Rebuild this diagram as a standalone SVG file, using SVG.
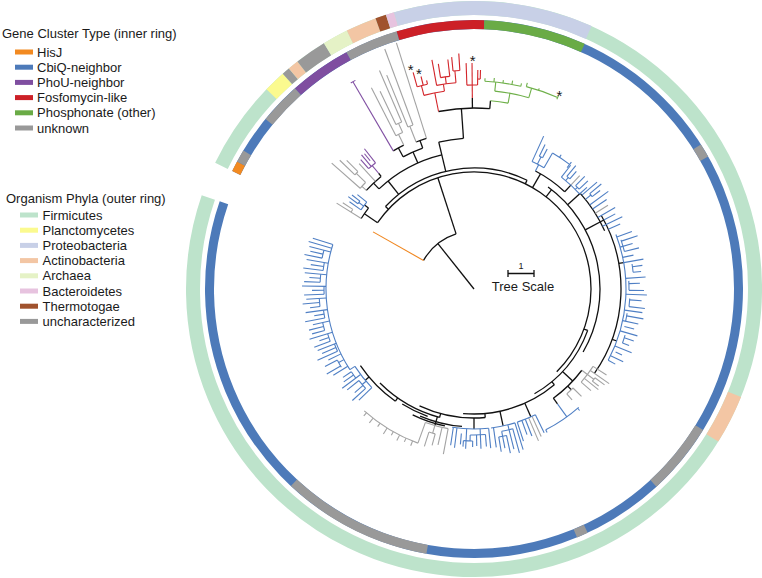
<svg xmlns="http://www.w3.org/2000/svg" width="762" height="578" viewBox="0 0 762 578">
<style>
text{font-family:"Liberation Sans",Arial,sans-serif;fill:#1a1a1a}
.lg{font-size:13px}
.ring circle{fill:none}
.t circle{fill:none}
.t line,.t circle{stroke-width:1.1}
.k line,.k circle{stroke:#111;stroke-width:1.3}
.b{stroke:#4f7fc4}
.g{stroke:#a3a3a3}
.r{stroke:#d3262b}
.p{stroke:#8150a3}
.n{stroke:#6fb04a}
.o{stroke:#f0861e}
.star{font-size:15px;text-anchor:middle}
</style>
<g id="legend-gene">
<text class="lg" x="2" y="38">Gene Cluster Type (inner ring)</text>
<rect x="15" y="49.5" width="18" height="5" fill="#f28a21"/><text class="lg" x="37" y="56.6">HisJ</text>
<rect x="15" y="64.7" width="18" height="5" fill="#4d7ab9"/><text class="lg" x="37" y="71.8">CbiQ-neighbor</text>
<rect x="15" y="79.9" width="18" height="5" fill="#7f4ea0"/><text class="lg" x="37" y="87">PhoU-neighbor</text>
<rect x="15" y="95.1" width="18" height="5" fill="#cc2027"/><text class="lg" x="37" y="102.2">Fosfomycin-like</text>
<rect x="15" y="110.3" width="18" height="5" fill="#6aab46"/><text class="lg" x="37" y="117.4">Phosphonate (other)</text>
<rect x="15" y="125.5" width="18" height="5" fill="#999999"/><text class="lg" x="37" y="132.6">unknown</text>
</g>
<g id="legend-phyla">
<text class="lg" x="6" y="202.5">Organism Phyla (outer ring)</text>
<rect x="20" y="212.5" width="18" height="5" fill="#bde3cb"/><text class="lg" x="42.5" y="219.6">Firmicutes</text>
<rect x="20" y="227.7" width="18" height="5" fill="#fbfa8f"/><text class="lg" x="42.5" y="234.8">Planctomycetes</text>
<rect x="20" y="242.9" width="18" height="5" fill="#c8d0e7"/><text class="lg" x="42.5" y="250">Proteobacteria</text>
<rect x="20" y="258.1" width="18" height="5" fill="#f3c6a4"/><text class="lg" x="42.5" y="265.2">Actinobacteria</text>
<rect x="20" y="273.3" width="18" height="5" fill="#e5f2c6"/><text class="lg" x="42.5" y="280.4">Archaea</text>
<rect x="20" y="288.5" width="18" height="5" fill="#e7c3df"/><text class="lg" x="42.5" y="295.6">Bacteroidetes</text>
<rect x="20" y="303.7" width="18" height="5" fill="#a0522d"/><text class="lg" x="42.5" y="310.8">Thermotogae</text>
<rect x="20" y="318.9" width="18" height="5" fill="#999999"/><text class="lg" x="42.5" y="326">uncharacterized</text>
</g>
<g id="outer-ring" class="ring" transform="translate(474,289)" stroke-width="14">
<circle r="281" pathLength="360" stroke="#bde3cb" stroke-dasharray="353 360" transform="rotate(206)"/>
<circle r="281" pathLength="360" stroke="#fbfa8f" stroke-dasharray="4.5 360" transform="rotate(223.9)"/>
<circle r="281" pathLength="360" stroke="#999999" stroke-dasharray="1.6 360" transform="rotate(228.4)"/>
<circle r="281" pathLength="360" stroke="#f3c6a4" stroke-dasharray="2.2 360" transform="rotate(230)"/>
<circle r="281" pathLength="360" stroke="#999999" stroke-dasharray="6.4 360" transform="rotate(232.2)"/>
<circle r="281" pathLength="360" stroke="#e5f2c6" stroke-dasharray="5.2 360" transform="rotate(238.6)"/>
<circle r="281" pathLength="360" stroke="#f3c6a4" stroke-dasharray="6.2 360" transform="rotate(243.8)"/>
<circle r="281" pathLength="360" stroke="#a0522d" stroke-dasharray="2.2 360" transform="rotate(250)"/>
<circle r="281" pathLength="360" stroke="#e7c3df" stroke-dasharray="1.7 360" transform="rotate(252.2)"/>
<circle r="281" pathLength="360" stroke="#c8d0e7" stroke-dasharray="40.2 360" transform="rotate(253.9)"/>
<circle r="281" pathLength="360" stroke="#f3c6a4" stroke-dasharray="10 360" transform="rotate(22)"/>
</g>
<g id="inner-ring" class="ring" transform="translate(474,289)" stroke-width="9">
<circle r="264.5" pathLength="360" stroke="#4d7ab9" stroke-dasharray="353 360" transform="rotate(206)"/>
<circle r="264.5" pathLength="360" stroke="#f28a21" stroke-dasharray="2.3 360" transform="rotate(206)"/>
<circle r="264.5" pathLength="360" stroke="#999999" stroke-dasharray="2.7 360" transform="rotate(208.3)"/>
<circle r="264.5" pathLength="360" stroke="#999999" stroke-dasharray="9.1 360" transform="rotate(219.2)"/>
<circle r="264.5" pathLength="360" stroke="#7f4ea0" stroke-dasharray="13.4 360" transform="rotate(228.3)"/>
<circle r="264.5" pathLength="360" stroke="#999999" stroke-dasharray="11.6 360" transform="rotate(241.7)"/>
<circle r="264.5" pathLength="360" stroke="#cc2027" stroke-dasharray="18.9 360" transform="rotate(253.3)"/>
<circle r="264.5" pathLength="360" stroke="#6aab46" stroke-dasharray="22.1 360" transform="rotate(272.2)"/>
<circle r="264.5" pathLength="360" stroke="#999999" stroke-dasharray="3 360" transform="rotate(327.5)"/>
<circle r="264.5" pathLength="360" stroke="#999999" stroke-dasharray="15.7 360" transform="rotate(31.6)"/>
<circle r="264.5" pathLength="360" stroke="#999999" stroke-dasharray="2.5 360" transform="rotate(65)"/>
<circle r="264.5" pathLength="360" stroke="#999999" stroke-dasharray="32.7 360" transform="rotate(100.2)"/>
</g>
<g id="connectors" class="t" transform="translate(474,289)">
<g class="k">
<line x1="0" x2="58" transform="rotate(231.5)"/>
<line x1="58" x2="117" transform="rotate(252)"/>
<line x1="117" x2="121" transform="rotate(223)"/>
<line x1="117" x2="121" transform="rotate(296)"/>
<line x1="117" x2="133" transform="rotate(214.5)"/>
<line x1="133" x2="138" transform="rotate(217.5)"/>
<line x1="121" x2="138" transform="rotate(231.5)"/>
<line x1="138" x2="146" transform="rotate(226.5)"/>
<line x1="146" x2="150" transform="rotate(230.5)"/>
<line x1="138" x2="150" transform="rotate(246)"/>
<line x1="150" x2="160" transform="rotate(241.8)"/>
<line x1="150" x2="158" transform="rotate(250)"/>
<line x1="121" x2="151" transform="rotate(256.5)"/>
<line x1="151" x2="181" transform="rotate(266)"/>
<line x1="181" x2="191" transform="rotate(269.5)"/>
<line x1="181" x2="189" transform="rotate(275)"/>
<line x1="117" x2="133" transform="rotate(300)"/>
<line x1="133" x2="142" transform="rotate(313)"/>
<line x1="117" x2="126" transform="rotate(308)"/>
<line x1="126" x2="143" transform="rotate(318)"/>
<line x1="126" x2="147" transform="rotate(332)"/>
<line x1="147" x2="152" transform="rotate(350)"/>
<line x1="147" x2="152" transform="rotate(380)"/>
<line x1="117" x2="121" transform="rotate(20)"/>
<line x1="121" x2="135" transform="rotate(43)"/>
<line x1="135" x2="142" transform="rotate(54)"/>
<line x1="135" x2="140" transform="rotate(46)"/>
<line x1="121" x2="125" transform="rotate(50)"/>
<line x1="125" x2="140" transform="rotate(66)"/>
<line x1="125" x2="140" transform="rotate(78)"/>
<line x1="125" x2="129" transform="rotate(85)"/>
<line x1="129" x2="140" transform="rotate(90)"/>
<line x1="129" x2="133" transform="rotate(105)"/>
<line x1="133" x2="142" transform="rotate(106)"/>
<line x1="133" x2="137" transform="rotate(125)"/>
<line x1="137" x2="142" transform="rotate(140)"/>
<circle r="58" pathLength="360" stroke-dasharray="42.5 360" transform="rotate(209.5)"/>
<circle r="117" pathLength="360" stroke-dasharray="190.5 360" transform="rotate(214.5)"/>
<circle r="121" pathLength="360" stroke-dasharray="73 360" transform="rotate(223)"/>
<circle r="121" pathLength="360" stroke-dasharray="40 360" transform="rotate(20)"/>
<circle r="125" pathLength="360" stroke-dasharray="45 360" transform="rotate(50)"/>
<circle r="129" pathLength="360" stroke-dasharray="30 360" transform="rotate(85)"/>
<circle r="133" pathLength="360" stroke-dasharray="30 360" transform="rotate(105)"/>
<circle r="137" pathLength="360" stroke-dasharray="21 360" transform="rotate(125)"/>
<circle r="138" pathLength="360" stroke-dasharray="18 360" transform="rotate(95)"/>
<circle r="140" pathLength="360" stroke-dasharray="14 360" transform="rotate(102)"/>
<circle r="135.5" pathLength="360" stroke-dasharray="12 360" transform="rotate(110)"/>
<circle r="133" pathLength="360" stroke-dasharray="5.5 360" transform="rotate(212)"/>
<circle r="138" pathLength="360" stroke-dasharray="30 360" transform="rotate(226.5)"/>
<circle r="146" pathLength="360" stroke-dasharray="8 360" transform="rotate(222.5)"/>
<circle r="150" pathLength="360" stroke-dasharray="8.2 360" transform="rotate(241.8)"/>
<circle r="160" pathLength="360" stroke-dasharray="4.3 360" transform="rotate(239.7)"/>
<circle r="158" pathLength="360" stroke-dasharray="4 360" transform="rotate(248.5)"/>
<circle r="151" pathLength="360" stroke-dasharray="9.5 360" transform="rotate(256.5)"/>
<circle r="181" pathLength="360" stroke-dasharray="16.3 360" transform="rotate(258.7)"/>
<circle r="133" pathLength="360" stroke-dasharray="15.5 360" transform="rotate(297.5)"/>
<circle r="126" pathLength="360" stroke-dasharray="84 360" transform="rotate(306)"/>
<circle r="143" pathLength="360" stroke-dasharray="18 360" transform="rotate(318)"/>
<circle r="147" pathLength="360" stroke-dasharray="65 360" transform="rotate(330)"/>
<circle r="135" pathLength="360" stroke-dasharray="17 360" transform="rotate(37)"/>
</g>
<g class="o"><line x1="58" x2="116" transform="rotate(209.5)"/></g>
<g class="g">
<line x1="133" x2="162" transform="rotate(212)"/>
<circle r="145" pathLength="360" stroke-dasharray="1.3 360" transform="rotate(212)"/>
<line x1="145" x2="157" transform="rotate(213.3)"/>
<line x1="146" x2="152" transform="rotate(222.5)"/>
<circle r="152" pathLength="360" stroke-dasharray="3 360" transform="rotate(221.5)"/>
<line x1="152" x2="190" transform="rotate(221.5)"/>
<line x1="152" x2="165" transform="rotate(224.5)"/>
<circle r="165" pathLength="360" stroke-dasharray="1.5 360" transform="rotate(223.8)"/>
<line x1="165" x2="186" transform="rotate(223.8)"/>
<line x1="165" x2="181" transform="rotate(225.3)"/>
<line x1="146" x2="170" transform="rotate(227.5)"/>
<line x1="160" x2="172" transform="rotate(244)"/>
<circle r="172" pathLength="360" stroke-dasharray="2.5 360" transform="rotate(243)"/>
<line x1="172" x2="226" transform="rotate(243)"/>
<line x1="172" x2="182" transform="rotate(245.5)"/>
<circle r="182" pathLength="360" stroke-dasharray="2 360" transform="rotate(244.6)"/>
<line x1="182" x2="219" transform="rotate(244.6)"/>
<line x1="182" x2="238" transform="rotate(246.6)"/>
<line x1="158" x2="175" transform="rotate(248.5)"/>
<circle r="175" pathLength="360" stroke-dasharray="1.8 360" transform="rotate(247.8)"/>
<line x1="175" x2="231" transform="rotate(247.8)"/>
<line x1="175" x2="256" transform="rotate(249.6)"/>
<line x1="158" x2="258" transform="rotate(252.5)"/>
<line x1="142" x2="155" transform="rotate(313)"/>
<line x1="143" x2="158" transform="rotate(328)"/>
<line x1="135" x2="142" transform="rotate(37)"/>
<circle r="142" pathLength="360" stroke-dasharray="8 360" transform="rotate(33)"/>
<line x1="142" x2="158" transform="rotate(33)"/>
<line x1="142" x2="165" transform="rotate(35)"/>
<circle r="150" pathLength="360" stroke-dasharray="1.6 360" transform="rotate(36.3)"/>
<line x1="142" x2="150" transform="rotate(37)"/>
<line x1="150" x2="162" transform="rotate(36.3)"/>
<line x1="150" x2="158" transform="rotate(37.9)"/>
<line x1="142" x2="160" transform="rotate(39)"/>
<line x1="142" x2="155" transform="rotate(41)"/>
<circle r="140" pathLength="360" stroke-dasharray="3.5 360" transform="rotate(45)"/>
<line x1="140" x2="152" transform="rotate(45)"/>
<line x1="140" x2="148" transform="rotate(48.5)"/>
<line x1="140" x2="162" transform="rotate(65.5)"/>
<line x1="140" x2="165" transform="rotate(67)"/>
<circle r="142" pathLength="360" stroke-dasharray="9.5 360" transform="rotate(100.5)"/>
<line x1="142" x2="168" transform="rotate(100.5)"/>
<line x1="142" x2="160" transform="rotate(103)"/>
<circle r="150" pathLength="360" stroke-dasharray="2.5 360" transform="rotate(105)"/>
<line x1="142" x2="150" transform="rotate(106)"/>
<line x1="150" x2="162" transform="rotate(105)"/>
<line x1="150" x2="165" transform="rotate(107.5)"/>
<line x1="142" x2="164" transform="rotate(110)"/>
<circle r="164" pathLength="360" stroke-dasharray="22 360" transform="rotate(110)"/>
<line x1="164" x2="169" transform="rotate(112)"/>
<line x1="164" x2="168" transform="rotate(114.5)"/>
<line x1="164" x2="170" transform="rotate(117)"/>
<line x1="164" x2="168" transform="rotate(119.5)"/>
<line x1="164" x2="171" transform="rotate(122)"/>
<line x1="164" x2="168" transform="rotate(125)"/>
<line x1="164" x2="170" transform="rotate(128)"/>
<line x1="164" x2="168" transform="rotate(131)"/>
</g>
<g class="b">
<circle r="138" pathLength="360" stroke-dasharray="4 360" transform="rotate(215)"/>
<line x1="138" x2="152" transform="rotate(215)"/>
<circle r="144" pathLength="360" stroke-dasharray="1.3 360" transform="rotate(216.3)"/>
<line x1="138" x2="144" transform="rotate(216.9)"/>
<line x1="144" x2="156" transform="rotate(216.3)"/>
<line x1="144" x2="154" transform="rotate(217.6)"/>
<line x1="138" x2="150" transform="rotate(219)"/>
<line x1="133" x2="140" transform="rotate(297.5)"/>
<circle r="140" pathLength="360" stroke-dasharray="5.5 360" transform="rotate(294.5)"/>
<line x1="140" x2="168" transform="rotate(294.5)"/>
<line x1="140" x2="148" transform="rotate(296.9)"/>
<circle r="148" pathLength="360" stroke-dasharray="1.4 360" transform="rotate(296.2)"/>
<line x1="148" x2="161" transform="rotate(296.2)"/>
<line x1="148" x2="158" transform="rotate(297.6)"/>
<line x1="140" x2="157" transform="rotate(300)"/>
<circle r="157" pathLength="360" stroke-dasharray="7.5 360" transform="rotate(300)"/>
<line x1="157" x2="160" transform="rotate(303)"/>
<line x1="153" x2="160" transform="rotate(307.5)"/>
<circle r="142" pathLength="360" stroke-dasharray="10 360" transform="rotate(308)"/>
<line x1="142" x2="157" transform="rotate(308)"/>
<line x1="142" x2="146" transform="rotate(310.2)"/>
<circle r="146" pathLength="360" stroke-dasharray="1.5 360" transform="rotate(309.5)"/>
<line x1="146" x2="160" transform="rotate(309.5)"/>
<line x1="146" x2="156" transform="rotate(311)"/>
<line x1="142" x2="145" transform="rotate(315.5)"/>
<circle r="145" pathLength="360" stroke-dasharray="2 360" transform="rotate(314.5)"/>
<line x1="145" x2="158" transform="rotate(314.5)"/>
<line x1="145" x2="157" transform="rotate(316.5)"/>
<line x1="142" x2="152" transform="rotate(318)"/>
<line x1="143" x2="163" transform="rotate(319)"/>
<line x1="143" x2="150" transform="rotate(321.2)"/>
<circle r="150" pathLength="360" stroke-dasharray="1.5 360" transform="rotate(320.5)"/>
<line x1="150" x2="165" transform="rotate(320.5)"/>
<line x1="150" x2="160" transform="rotate(322)"/>
<line x1="143" x2="166" transform="rotate(324)"/>
<line x1="143" x2="160" transform="rotate(326)"/>
<line x1="143" x2="163" transform="rotate(330)"/>
<line x1="147" x2="160" transform="rotate(332)"/>
<line x1="143" x2="165" transform="rotate(334)"/>
<line x1="147" x2="160" transform="rotate(336)"/>
<circle r="152" pathLength="360" stroke-dasharray="49 360" transform="rotate(339)"/>
<line x1="152" x2="168" transform="rotate(340)"/>
<circle r="155" pathLength="360" stroke-dasharray="4.5 360" transform="rotate(341.5)"/>
<line x1="155" x2="172" transform="rotate(342)"/>
<line x1="152" x2="165" transform="rotate(344)"/>
<line x1="155" x2="170" transform="rotate(346)"/>
<line x1="152" x2="163" transform="rotate(348)"/>
<line x1="152" x2="172" transform="rotate(350)"/>
<circle r="160" pathLength="360" stroke-dasharray="3 360" transform="rotate(351)"/>
<line x1="160" x2="170" transform="rotate(352)"/>
<line x1="160" x2="168" transform="rotate(354)"/>
<line x1="152" x2="172" transform="rotate(356)"/>
<circle r="155" pathLength="360" stroke-dasharray="3.5 360" transform="rotate(357)"/>
<line x1="155" x2="166" transform="rotate(358)"/>
<line x1="155" x2="170" transform="rotate(360.5)"/>
<line x1="152" x2="173" transform="rotate(362)"/>
<circle r="156" pathLength="360" stroke-dasharray="3 360" transform="rotate(363.5)"/>
<line x1="156" x2="168" transform="rotate(364)"/>
<line x1="156" x2="172" transform="rotate(366.5)"/>
<line x1="152" x2="170" transform="rotate(368)"/>
<circle r="155" pathLength="360" stroke-dasharray="3 360" transform="rotate(369)"/>
<line x1="155" x2="172" transform="rotate(370)"/>
<line x1="152" x2="168" transform="rotate(372)"/>
<line x1="155" x2="165" transform="rotate(374)"/>
<line x1="152" x2="170" transform="rotate(376)"/>
<circle r="158" pathLength="360" stroke-dasharray="3 360" transform="rotate(377)"/>
<line x1="158" x2="168" transform="rotate(378)"/>
<line x1="158" x2="165" transform="rotate(380)"/>
<line x1="152" x2="170" transform="rotate(382)"/>
<line x1="155" x2="162" transform="rotate(384)"/>
<line x1="152" x2="166" transform="rotate(386)"/>
<line x1="152" x2="160" transform="rotate(388)"/>
<line x1="142" x2="158" transform="rotate(54)"/>
<circle r="158" pathLength="360" stroke-dasharray="14.5 360" transform="rotate(48.5)"/>
<line x1="158" x2="161" transform="rotate(49)"/>
<line x1="158" x2="161" transform="rotate(63)"/>
<circle r="140" pathLength="360" stroke-dasharray="8 360" transform="rotate(64)"/>
<line x1="140" x2="160" transform="rotate(64)"/>
<line x1="140" x2="158" transform="rotate(68.5)"/>
<line x1="140" x2="155" transform="rotate(70)"/>
<line x1="140" x2="160" transform="rotate(72)"/>
<circle r="140" pathLength="360" stroke-dasharray="10 360" transform="rotate(73)"/>
<line x1="140" x2="168" transform="rotate(73)"/>
<circle r="145" pathLength="360" stroke-dasharray="4.5 360" transform="rotate(74.5)"/>
<line x1="145" x2="170" transform="rotate(74.5)"/>
<line x1="140" x2="165" transform="rotate(76)"/>
<circle r="150" pathLength="360" stroke-dasharray="3 360" transform="rotate(77.5)"/>
<line x1="150" x2="168" transform="rotate(77.5)"/>
<line x1="145" x2="162" transform="rotate(79)"/>
<line x1="150" x2="165" transform="rotate(80.5)"/>
<line x1="140" x2="160" transform="rotate(82)"/>
<circle r="140" pathLength="360" stroke-dasharray="15 360" transform="rotate(84)"/>
<line x1="140" x2="160" transform="rotate(84)"/>
<circle r="146" pathLength="360" stroke-dasharray="6 360" transform="rotate(85.5)"/>
<line x1="146" x2="158" transform="rotate(85.5)"/>
<line x1="140" x2="160" transform="rotate(87.5)"/>
<line x1="146" x2="157" transform="rotate(89)"/>
<circle r="152" pathLength="360" stroke-dasharray="3.5 360" transform="rotate(90.5)"/>
<line x1="146" x2="152" transform="rotate(91.5)"/>
<line x1="152" x2="158" transform="rotate(90.5)"/>
<line x1="152" x2="158" transform="rotate(94)"/>
<line x1="140" x2="160" transform="rotate(93)"/>
<line x1="145" x2="156" transform="rotate(95)"/>
<line x1="140" x2="160" transform="rotate(97)"/>
<line x1="140" x2="158" transform="rotate(98.5)"/>
<circle r="142" pathLength="360" stroke-dasharray="11 360" transform="rotate(136)"/>
<line x1="142" x2="160" transform="rotate(136)"/>
<circle r="147" pathLength="360" stroke-dasharray="4 360" transform="rotate(137.5)"/>
<line x1="147" x2="165" transform="rotate(137.5)"/>
<line x1="142" x2="147" transform="rotate(139.5)"/>
<line x1="147" x2="158" transform="rotate(139)"/>
<line x1="147" x2="162" transform="rotate(141.5)"/>
<line x1="142" x2="165" transform="rotate(143)"/>
<circle r="148" pathLength="360" stroke-dasharray="3 360" transform="rotate(143)"/>
<line x1="148" x2="160" transform="rotate(144.5)"/>
<line x1="148" x2="158" transform="rotate(146)"/>
<line x1="142" x2="148" transform="rotate(147)"/>
<circle r="148" pathLength="360" stroke-dasharray="50.5 360" transform="rotate(147)"/>
<line x1="148" x2="165" transform="rotate(148.5)"/>
<circle r="154" pathLength="360" stroke-dasharray="3 360" transform="rotate(149.5)"/>
<line x1="154" x2="170" transform="rotate(150)"/>
<line x1="148" x2="154" transform="rotate(151.5)"/>
<line x1="154" x2="168" transform="rotate(152.5)"/>
<line x1="148" x2="162" transform="rotate(154)"/>
<circle r="150" pathLength="360" stroke-dasharray="3 360" transform="rotate(155.5)"/>
<line x1="150" x2="172" transform="rotate(155.5)"/>
<line x1="150" x2="165" transform="rotate(157)"/>
<line x1="148" x2="168" transform="rotate(158.5)"/>
<circle r="153" pathLength="360" stroke-dasharray="3 360" transform="rotate(160)"/>
<line x1="153" x2="170" transform="rotate(160)"/>
<line x1="153" x2="163" transform="rotate(161.5)"/>
<line x1="148" x2="172" transform="rotate(163)"/>
<circle r="155" pathLength="360" stroke-dasharray="3 360" transform="rotate(164.5)"/>
<line x1="155" x2="168" transform="rotate(164.5)"/>
<line x1="155" x2="170" transform="rotate(166)"/>
<line x1="148" x2="165" transform="rotate(167.5)"/>
<circle r="152" pathLength="360" stroke-dasharray="3 360" transform="rotate(169)"/>
<line x1="152" x2="172" transform="rotate(169)"/>
<line x1="152" x2="162" transform="rotate(170.5)"/>
<line x1="148" x2="170" transform="rotate(172)"/>
<circle r="155" pathLength="360" stroke-dasharray="3 360" transform="rotate(173.5)"/>
<line x1="155" x2="165" transform="rotate(173.5)"/>
<line x1="155" x2="172" transform="rotate(175)"/>
<line x1="148" x2="168" transform="rotate(176.5)"/>
<circle r="150" pathLength="360" stroke-dasharray="3 360" transform="rotate(178)"/>
<line x1="150" x2="170" transform="rotate(178)"/>
<line x1="150" x2="162" transform="rotate(179.5)"/>
<line x1="148" x2="172" transform="rotate(181)"/>
<circle r="154" pathLength="360" stroke-dasharray="3 360" transform="rotate(182.5)"/>
<line x1="154" x2="170" transform="rotate(182.5)"/>
<line x1="154" x2="165" transform="rotate(184)"/>
<line x1="148" x2="170" transform="rotate(185.5)"/>
<circle r="152" pathLength="360" stroke-dasharray="3 360" transform="rotate(187)"/>
<line x1="152" x2="172" transform="rotate(187)"/>
<line x1="152" x2="165" transform="rotate(188.5)"/>
<line x1="148" x2="170" transform="rotate(190)"/>
<circle r="155" pathLength="360" stroke-dasharray="3 360" transform="rotate(191.5)"/>
<line x1="155" x2="173" transform="rotate(191.5)"/>
<line x1="155" x2="168" transform="rotate(193)"/>
<line x1="148" x2="170" transform="rotate(194.5)"/>
<line x1="148" x2="172" transform="rotate(196)"/>
<line x1="148" x2="169" transform="rotate(197.5)"/>
</g>
<g class="p">
<line x1="150" x2="160" transform="rotate(230.5)"/>
<circle r="160" pathLength="360" stroke-dasharray="3.2 360" transform="rotate(228.8)"/>
<line x1="160" x2="172" transform="rotate(228.8)"/>
<line x1="160" x2="175" transform="rotate(230)"/>
<line x1="165" x2="174" transform="rotate(231)"/>
<line x1="160" x2="178" transform="rotate(232)"/>
<line x1="160" x2="240" transform="rotate(239.7)"/>
<circle r="240" pathLength="360" stroke-dasharray="1.3 360" transform="rotate(239.1)"/>
</g>
<g class="r">
<line x1="181" x2="200" transform="rotate(258.7)"/>
<circle r="200" pathLength="360" stroke-dasharray="6 360" transform="rotate(255.5)"/>
<line x1="200" x2="210" transform="rotate(255.5)"/>
<circle r="210" pathLength="360" stroke-dasharray="2.9 360" transform="rotate(254.3)"/>
<line x1="210" x2="225" transform="rotate(254.3)"/>
<line x1="210" x2="219" transform="rotate(256)"/>
<line x1="210" x2="214" transform="rotate(257.2)"/>
<line x1="200" x2="207" transform="rotate(261.5)"/>
<circle r="207" pathLength="360" stroke-dasharray="5.4 360" transform="rotate(259.6)"/>
<line x1="207" x2="233" transform="rotate(259.6)"/>
<line x1="207" x2="214" transform="rotate(262.3)"/>
<circle r="214" pathLength="360" stroke-dasharray="2.5 360" transform="rotate(261)"/>
<line x1="214" x2="228" transform="rotate(261)"/>
<line x1="214" x2="231" transform="rotate(263.5)"/>
<line x1="207" x2="219" transform="rotate(265)"/>
<circle r="219" pathLength="360" stroke-dasharray="1.8 360" transform="rotate(264.5)"/>
<line x1="219" x2="233" transform="rotate(264.5)"/>
<line x1="219" x2="236" transform="rotate(266.3)"/>
<line x1="191" x2="226" transform="rotate(269.5)"/>
<circle r="204" pathLength="360" stroke-dasharray="3 360" transform="rotate(268)"/>
<line x1="204" x2="226" transform="rotate(268)"/>
<line x1="204" x2="219" transform="rotate(271)"/>
<circle r="210" pathLength="360" stroke-dasharray="0.7 360" transform="rotate(271)"/>
<line x1="210" x2="219" transform="rotate(271.7)"/>
</g>
<g class="n">
<circle r="189" pathLength="360" stroke-dasharray="5.4 360" transform="rotate(275)"/>
<line x1="189" x2="199" transform="rotate(280.4)"/>
<circle r="199" pathLength="360" stroke-dasharray="10 360" transform="rotate(276)"/>
<line x1="199" x2="208" transform="rotate(276)"/>
<circle r="208" pathLength="360" stroke-dasharray="10 360" transform="rotate(273)"/>
<line x1="208" x2="211" transform="rotate(273)"/>
<line x1="208" x2="212" transform="rotate(275.5)"/>
<line x1="208" x2="211" transform="rotate(278)"/>
<line x1="208" x2="212" transform="rotate(280.5)"/>
<line x1="208" x2="211" transform="rotate(283)"/>
<line x1="199" x2="209" transform="rotate(286)"/>
<circle r="209" pathLength="360" stroke-dasharray="9.1 360" transform="rotate(284.5)"/>
<line x1="209" x2="213" transform="rotate(284.5)"/>
<line x1="209" x2="211" transform="rotate(288)"/>
<line x1="207" x2="211" transform="rotate(293.6)"/>
</g>
</g>
<g id="stars">
<text class="star" x="410.7" y="74.6">*</text>
<text class="star" x="419" y="79.3">*</text>
<text class="star" x="472.7" y="65.9">*</text>
<text class="star" x="559.3" y="101.3">*</text>
</g>
<g id="tree-scale">
<path d="M508 273.5H534M508 270V277M534 270V277" stroke="#111" stroke-width="1.3" fill="none"/>
<text x="521" y="269" font-size="9" text-anchor="middle">1</text>
<text x="523" y="291" font-size="13" text-anchor="middle">Tree Scale</text>
</g>
</svg>
